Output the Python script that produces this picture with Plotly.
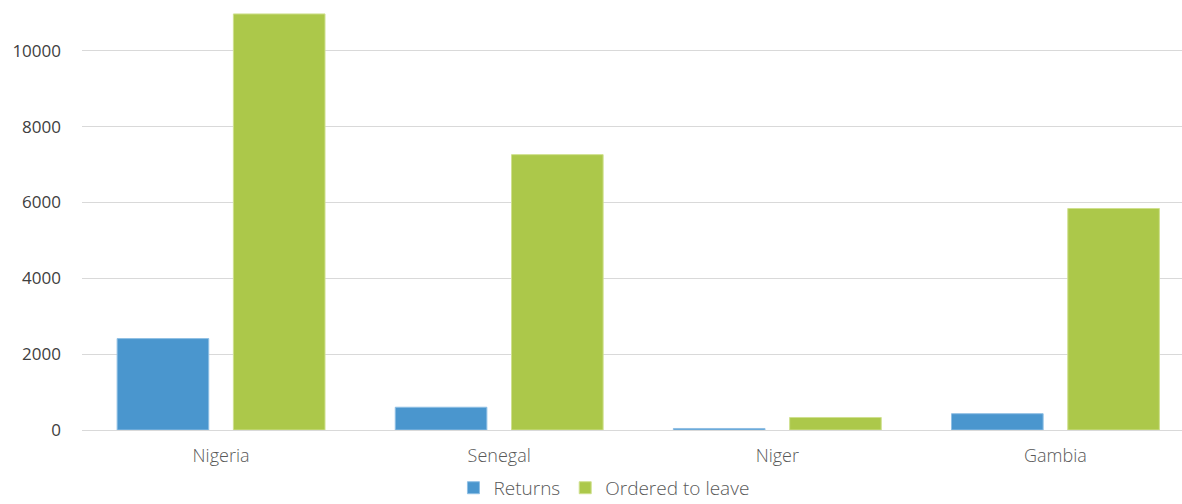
import plotly.graph_objects as go

countries = ["Nigeria", "Senegal", "Niger", "Gambia"]
returns = [2410, 600, 40, 430]
ordered_to_leave = [10970, 7260, 330, 5840]
y_ticks = [0, 2000, 4000, 6000, 8000, 10000]
y_tick_text = [str(v) for v in y_ticks]

fig = go.Figure()
fig.add_trace(go.Bar(x=countries, y=returns, name="Returns",
                     marker=dict(color="#4a96ce", line=dict(color="#8fbfe4", width=1))))
fig.add_trace(go.Bar(x=countries, y=ordered_to_leave, name="Ordered to leave",
                     marker=dict(color="#acc84a", line=dict(color="#cfe08e", width=1))))

fig.update_layout(
    width=1182, height=504,
    margin=dict(l=82, r=0, t=9, b=74),
    paper_bgcolor="white", plot_bgcolor="white",
    barmode="group", bargap=0.164, bargroupgap=0.212,
    font=dict(family="Open Sans", size=18, color="#595959"),
    showlegend=True,
    legend=dict(orientation="h", x=0.4745, xanchor="center",
                yref="container", y=0.032, yanchor="middle",
                font=dict(size=19, color="#595959", weight=300),
                itemwidth=30, traceorder="normal"),
)
fig.update_xaxes(range=[-0.5, 3.455], showgrid=False, showline=False, ticks="",
                 ticklabelstandoff=13,
                 tickfont=dict(size=18, color="#595959", weight=300))
fig.update_yaxes(range=[0, 11100], tickvals=y_ticks, ticktext=y_tick_text,
                 showgrid=True, gridcolor="#d9d9d9", gridwidth=1,
                 zeroline=True, zerolinecolor="#d9d9d9", zerolinewidth=1,
                 showline=False, ticks="", ticklabelstandoff=20,
                 tickfont=dict(size=17, color="#404040"))

fig.write_html("out.html")
